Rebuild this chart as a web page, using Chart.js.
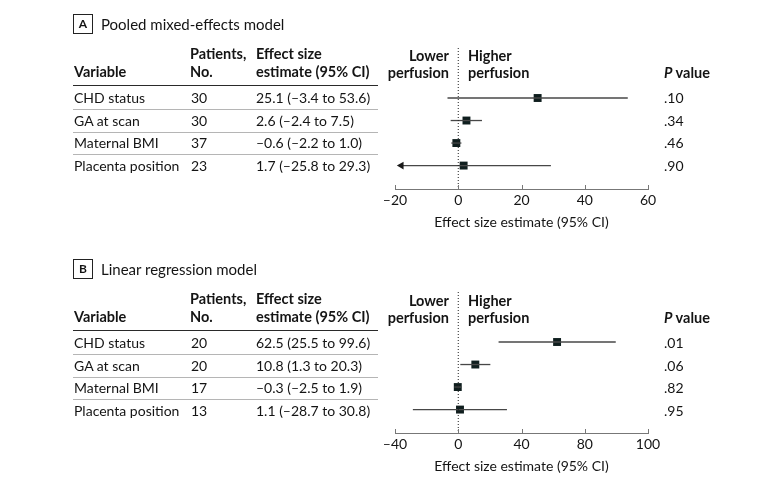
<!DOCTYPE html>
<html>
<head>
<meta charset="utf-8">
<script src="https://cdn.jsdelivr.net/npm/chart.js@4.4.1/dist/chart.umd.min.js"></script>
<style>
  html, body { margin: 0; padding: 0; background: #fff; }
  #page { position: relative; width: 780px; height: 486px; overflow: hidden;
          font-family: Lato, 'Open Sans', sans-serif; font-size: 14px; color: #141414; }
  .t { position: absolute; white-space: nowrap; line-height: 16px; transform: translateY(-50%); }
  .b { font-weight: 700; font-size: 14.5px; }
  .title { font-size: 15px; }
  .rule { position: absolute; height: 0; }
  .box { position: absolute; width: 18px; height: 18px; border: 1px solid #222;
         font-weight: 700; font-size: 12px; text-align: center; line-height: 18px; }
  canvas { position: absolute; left: 0; }
</style>
</head>
<body>
<div id="page">
  <canvas id="chart-a" width="780" height="243" style="top:0px"></canvas>
  <canvas id="chart-b" width="780" height="243" style="top:244px"></canvas>
</div>
<script>
'use strict';

// *************** DATA
const variables = ['CHD status', 'GA at scan', 'Maternal BMI', 'Placenta position'];

// A - pooled mixed-effects model
const pooledPatients = [30, 30, 37, 23];
const pooledEstimate = [25.1, 2.6, -0.6, 1.7];
const pooledLower = [-3.4, -2.4, -2.2, -25.8];
const pooledUpper = [53.6, 7.5, 1.0, 29.3];
const pooledP = ['.10', '.34', '.46', '.90'];
const pooledTicks = [-20, 0, 20, 40, 60];
const pooledTickLabels = ['\u201320', '0', '20', '40', '60'];

// B - linear regression model
const linearPatients = [20, 20, 17, 13];
const linearEstimate = [62.5, 10.8, -0.3, 1.1];
const linearLower = [25.5, 1.3, -2.5, -28.7];
const linearUpper = [99.6, 20.3, 1.9, 30.8];
const linearP = ['.01', '.06', '.82', '.95'];
const linearTicks = [-40, 0, 40, 80, 120];
const linearTickLabels = ['\u201340', '0', '40', '80', '100'];

// *************** LAYOUT
const page = document.getElementById('page');
const ROW_GAP = 22.5;
const Y_MIN = -2.22;
const Y_MAX = 4.04;

function fmt(v) {
  return v.toFixed(1).replace('-', '\u2013');
}

function put(text, x, y, cls, align) {
  let d = document.createElement('div');
  d.className = 't ' + (cls || '');
  d.innerHTML = text;
  if (align === 'right') {
    d.style.right = (780 - x) + 'px';
  } else {
    d.style.left = x + 'px';
  }
  d.style.top = y + 'px';
  page.appendChild(d);
}

function rule(x1, x2, y, color, w) {
  let r = document.createElement('div');
  r.className = 'rule';
  r.style.left = x1 + 'px';
  r.style.width = (x2 - x1) + 'px';
  r.style.top = y + 'px';
  r.style.borderTop = w + 'px solid ' + color;
  page.appendChild(r);
}

function drawTable(off, letter, title, patients, est, lo, hi, pvals) {
  let box = document.createElement('div');
  box.className = 'box';
  box.textContent = letter;
  box.style.left = '73px';
  box.style.top = (off + 14) + 'px';
  page.appendChild(box);
  put(title, 101, off + 24, 'title');

  put('Patients,', 190, off + 54, 'b');
  put('Effect size', 256, off + 54, 'b');
  put('Variable', 74, off + 72, 'b');
  put('No.', 190, off + 72, 'b');
  put('estimate (95% CI)', 256, off + 72, 'b');
  put('Lower', 449, off + 56, 'b', 'right');
  put('perfusion', 449, off + 73, 'b', 'right');
  put('Higher', 468, off + 56, 'b');
  put('perfusion', 468, off + 73, 'b');
  put('<i>P</i> value', 664, off + 73, 'b');
  rule(73, 378, off + 85, '#2a2a2a', 1.5);

  for (let i = 0; i < variables.length; i++) {
    let y = off + 98 + i * ROW_GAP;
    put(variables[i], 74, y);
    put(String(patients[i]), 191, y);
    put(`${fmt(est[i])} (${fmt(lo[i])} to ${fmt(hi[i])})`, 256, y);
    put(pvals[i], 664, y);
    if (i < variables.length - 1) {
      rule(73, 378, y + 11, '#b5b5b5', 1);
    }
  }
}

// *************** CHART
// short tick marks pointing up from the axis line
const upTicks = {
  id: 'upTicks',
  afterDraw(chart) {
    let xs = chart.scales.x;
    let ctx = chart.ctx;
    let bottom = chart.chartArea.bottom;
    ctx.save();
    ctx.strokeStyle = '#777';
    ctx.lineWidth = 1;
    xs.ticks.forEach(t => {
      let px = Math.round(xs.getPixelForValue(t.value)) + 0.5;
      ctx.beginPath();
      ctx.moveTo(px, bottom - 4);
      ctx.lineTo(px, bottom);
      ctx.stroke();
    });
    ctx.restore();
  }
};

function drawPanel(canvasId, est, lo, hi, ticks, tickLabels) {
  let xMin = ticks[0];
  let xMax = ticks[ticks.length - 1];
  let arrowX = xMin + (xMax - xMin) * 0.025;
  let datasets = [];

  // dotted line at zero
  datasets.push({
    type: 'line',
    data: [{ x: 0, y: Y_MIN }, { x: 0, y: Y_MAX }],
    borderColor: '#222',
    borderWidth: 1,
    borderDash: [1, 2],
    pointRadius: 0
  });

  // confidence intervals
  for (let i = 0; i < est.length; i++) {
    let clipped = lo[i] < xMin;
    datasets.push({
      type: 'line',
      data: [{ x: clipped ? arrowX : lo[i], y: i }, { x: hi[i], y: i }],
      borderColor: '#474747',
      borderWidth: 1.3,
      pointRadius: [clipped ? 4.5 : 0, 0],
      pointStyle: 'triangle',
      pointRotation: -90,
      pointBackgroundColor: '#1a1a1a',
      pointBorderWidth: 0
    });
  }

  // point estimates
  datasets.push({
    type: 'scatter',
    data: est.map((v, i) => ({ x: v, y: i })),
    pointStyle: 'rect',
    pointRadius: 5.6,
    pointBackgroundColor: '#0f1e1e',
    pointBorderWidth: 0
  });

  let ctx = document.getElementById(canvasId).getContext('2d');
  new Chart(ctx, { // eslint-disable-line
    type: 'scatter',
    data: { datasets: datasets },
    options: {
      responsive: false,
      animation: false,
      events: [],
      layout: { padding: { left: 395, right: 132, top: 48, bottom: 12 } },
      plugins: { legend: { display: false }, tooltip: { enabled: false } },
      scales: {
        x: {
          type: 'linear',
          min: xMin,
          max: xMax,
          afterBuildTicks: s => { s.ticks = ticks.map(v => ({ value: v })); },
          afterFit: s => { s.height = 42; },
          ticks: {
            callback: (v, idx) => tickLabels[idx],
            color: '#141414',
            font: { family: 'Lato', size: 14 },
            padding: 3,
            maxRotation: 0,
            autoSkip: false
          },
          grid: { display: false, drawTicks: false },
          border: { display: true, color: '#777', width: 1 },
          title: {
            display: true,
            text: 'Effect size estimate (95% CI)',
            color: '#141414',
            font: { family: 'Lato', size: 14 },
            padding: { top: 2, bottom: 0 }
          }
        },
        y: { type: 'linear', display: false, reverse: true, min: Y_MIN, max: Y_MAX }
      }
    },
    plugins: [upTicks]
  });
}

drawTable(0, 'A', 'Pooled mixed-effects model', pooledPatients, pooledEstimate, pooledLower, pooledUpper, pooledP);
drawTable(245, 'B', 'Linear regression model', linearPatients, linearEstimate, linearLower, linearUpper, linearP);
drawPanel('chart-a', pooledEstimate, pooledLower, pooledUpper, pooledTicks, pooledTickLabels);
drawPanel('chart-b', linearEstimate, linearLower, linearUpper, linearTicks, linearTickLabels);
</script>
</body>
</html>
